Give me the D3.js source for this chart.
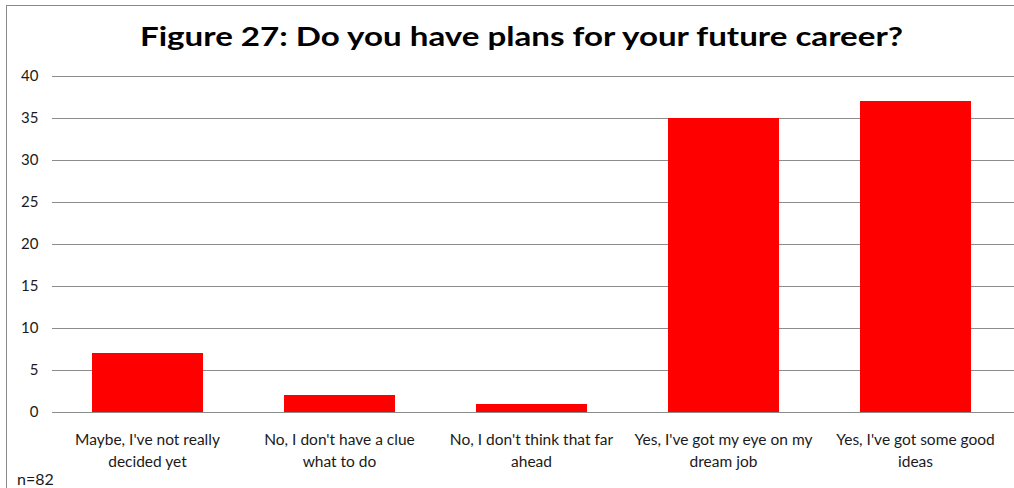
<!DOCTYPE html>
<html>
<head>
<meta charset="utf-8">
<script src="https://cdn.jsdelivr.net/npm/d3@7/dist/d3.min.js"></script>
<style>
  html, body { margin: 0; padding: 0; background: #fff; }
  svg { display: block; }
</style>
</head>
<body>
<svg id="chart" width="1014" height="488"></svg>
<script>
// Survey responses: "Do you have plans for your future career?"
const categories = [
  ["Maybe, I've not really", "decided yet"],
  ["No, I don't have a clue", "what to do"],
  ["No, I don't think that far", "ahead"],
  ["Yes, I've got my eye on my", "dream job"],
  ["Yes, I've got some good", "ideas"]
];
const counts = [7, 2, 1, 35, 37];
const yTicks = [0, 5, 10, 15, 20, 25, 30, 35, 40];
const titleText = "Figure 27: Do you have plans for your future career?";
const noteText = "n=82";

const svg = d3.select("#chart");
const W = 1014, H = 488;
const margin = { left: 51.5, top: 76 };
const plotBottom = 412;
const font = "Lato, 'Open Sans', sans-serif";

// Outer chart frame (cropped on the right and bottom)
svg.append("rect")
  .attr("x", 6.5).attr("y", 5.5)
  .attr("width", W + 20).attr("height", H + 20)
  .attr("fill", "none")
  .attr("stroke", "#8a8a8a")
  .attr("stroke-width", 1);

const x = d3.scaleBand()
  .domain(d3.range(categories.length))
  .range([margin.left, margin.left + 960])
  .paddingInner(0.42)
  .paddingOuter(0.21);

const y = d3.scaleLinear()
  .domain([0, 40])
  .range([plotBottom, margin.top]);

// Horizontal gridlines with value labels
const yAxis = d3.axisLeft(y)
  .tickValues(yTicks)
  .tickSize(-(W - margin.left))
  .tickPadding(13)
  .tickFormat(d3.format("d"));

const gy = svg.append("g")
  .attr("transform", `translate(${margin.left},0)`)
  .call(yAxis);
gy.select(".domain").remove();
gy.selectAll(".tick line")
  .attr("stroke", "#8c8c8c")
  .attr("stroke-width", 1)
  .attr("shape-rendering", "crispEdges");
gy.selectAll(".tick text")
  .attr("fill", "#1a1a1a")
  .style("font-family", font)
  .style("font-size", "15px");

// Bars
svg.append("g").selectAll("rect")
  .data(counts)
  .join("rect")
  .attr("x", (d, i) => x(i))
  .attr("y", d => y(d))
  .attr("width", x.bandwidth())
  .attr("height", d => y(0) - y(d))
  .attr("fill", "#ff0000")
  .attr("shape-rendering", "crispEdges");

// Category labels (two lines each)
const labels = svg.append("g").selectAll("text")
  .data(categories)
  .join("text")
  .attr("x", (d, i) => x(i) + x.bandwidth() / 2)
  .attr("y", 445)
  .attr("text-anchor", "middle")
  .attr("fill", "#1a1a1a")
  .style("font-family", font)
  .style("font-size", "15.5px");
labels.each(function (d) {
  const t = d3.select(this);
  const cx = t.attr("x");
  d.forEach((line, k) => {
    t.append("tspan")
      .attr("x", cx)
      .attr("dy", k === 0 ? 0 : 22)
      .text(line);
  });
});

// Title
svg.append("text")
  .attr("x", 521.5)
  .attr("y", 46)
  .attr("text-anchor", "middle")
  .attr("textLength", 763)
  .attr("lengthAdjust", "spacingAndGlyphs")
  .attr("fill", "#000")
  .style("font-family", font)
  .style("font-weight", "bold")
  .style("font-size", "26px")
  .text(titleText);

// Sample size note
svg.append("text")
  .attr("x", 17)
  .attr("y", 485)
  .attr("fill", "#1a1a1a")
  .style("font-family", font)
  .style("font-size", "16px")
  .text(noteText);
</script>
</body>
</html>
